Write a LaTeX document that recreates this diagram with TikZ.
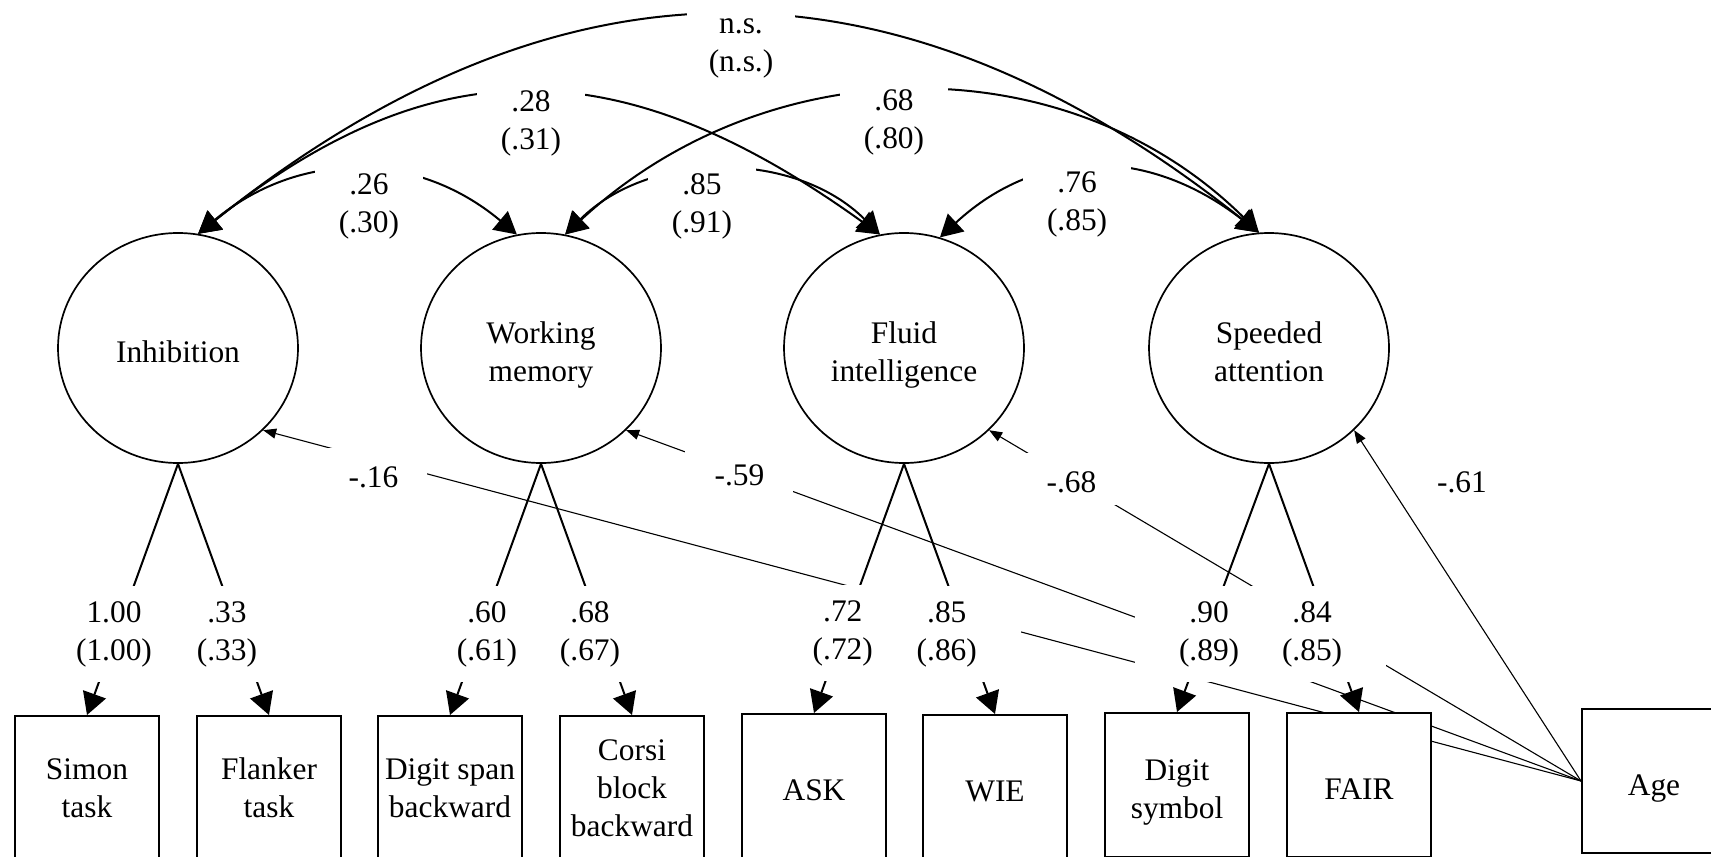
\documentclass[tikz,border=0pt]{standalone}
\usepackage{fontspec}
\setmainfont{Liberation Serif}
\usetikzlibrary{shapes.geometric,arrows.meta}
\pgfdeclarelayer{bg}
\pgfsetlayers{bg,main}
% two-line coefficient label with even line heights
\newcommand{\twoline}[2]{\strut#1\\\strut#2}
% taller box for the age-effect labels
\newcommand{\tallrule}{\rule[-6pt]{0pt}{26pt}}
% first-line spacer that sets a name a little below centre
\newcommand{\lowrule}{\rule[-5.7pt]{0pt}{25.4pt}}
\begin{document}
\begin{tikzpicture}[x=0.5pt,y=-0.5pt,
  every node/.style={font=\fontsize{15.7}{19}\selectfont},
  bighead/.tip={Triangle[length=11pt,width=12pt]},
  smallhead/.tip={Triangle[length=6.5pt,width=5pt]},
  factor/.style={draw, ellipse, line width=0.85pt, fill=white,
    minimum width=120pt, minimum height=115pt, inner sep=0pt, align=center},
  measure/.style={draw, rectangle, line width=1pt, fill=white,
    minimum width=72pt, minimum height=72pt, inner sep=0pt, align=center},
  loading/.style={line width=1pt, -bighead},
  cov/.style={line width=1pt, bighead-bighead},
  agepath/.style={line width=0.55pt, -smallhead},
  ldlbl/.style={fill=white, inner sep=0pt, minimum width=74pt,
    minimum height=48pt, align=center},
  arclbl/.style={fill=white, inner xsep=0pt, inner ysep=3pt,
    minimum width=54pt, align=center},
  agelbl/.style={fill=white, inner sep=0pt, minimum width=54pt},
]
\useasboundingbox (0,0) rectangle (1711,856);

% latent factors
\node[factor] (inh) at (178,348) {\lowrule Inhibition};
\node[factor] (wm)  at (541,348) {\lowrule Working\\\strut memory};
\node[factor] (flu) at (904,348) {\lowrule Fluid\\\strut intelligence};
\node[factor] (spd) at (1269,348) {\lowrule Speeded\\\strut attention};

% observed measures
\node[measure] (simon)   at (87,788)   {Simon\\task};
\node[measure] (flanker) at (269,788)  {Flanker\\task};
\node[measure] (dspan)   at (450,788)  {Digit span\\backward};
\node[measure] (corsi)   at (632,788)  {Corsi\\block\\backward};
\node[measure] (ask)     at (814,786)  {\lowrule ASK};
\node[measure] (wie)     at (995,787)  {\lowrule WIE};
\node[measure] (dsym)    at (1177,785) {\rule{0pt}{17.4pt}Digit\\symbol};
\node[measure] (fair)    at (1359,785) {\lowrule FAIR};
\node[measure] (age)     at (1654,781) {\lowrule Age};

% age effects on the factors (behind everything else)
\begin{pgfonlayer}{bg}
\draw[agepath] (age.west) -- node[agelbl, pos=0.9163, yshift=-7pt] (l-ainh) {\tallrule-.16} (inh.-44);
\draw[agepath] (age.west) -- node[agelbl, pos=0.8813] (l-awm) {\tallrule-.59} (wm.-44);
\draw[agepath] (age.west) -- node[agelbl, pos=0.861] (l-aflu) {\tallrule-.68} (flu.-44);
\draw[agepath] (age.west) -- node[inner sep=0pt, pos=0.8617, xshift=38.25pt] (l-aspd) {\tallrule-.61} (spd.-44);
\end{pgfonlayer}

% factor loadings
\draw[loading] (inh.south) -- node[ldlbl, pos=0.676, xshift=-1.25pt] (l-simon) {\twoline{1.00}{(1.00)}} (simon.north);
\draw[loading] (inh.south) -- node[ldlbl, pos=0.676, xshift=-6.25pt] (l-flanker) {\twoline{.33}{(.33)}} (flanker.north);
\draw[loading] (wm.south) -- node[ldlbl, pos=0.676, xshift=3.75pt] (l-dspan) {\twoline{.60}{(.61)}} (dspan.north);
\draw[loading] (wm.south) -- node[ldlbl, pos=0.676, xshift=-6.25pt] (l-corsi) {\twoline{.68}{(.67)}} (corsi.north);
\draw[loading] (flu.south) -- node[ldlbl, pos=0.680] (l-ask) {\twoline{.72}{(.72)}} (ask.north);
\draw[loading] (flu.south) -- node[ldlbl, pos=0.679, xshift=-9.5pt] (l-wie) {\twoline{.85}{(.86)}} (wie.north);
\draw[loading] (spd.south) -- node[ldlbl, pos=0.684, xshift=1.5pt] (l-dsym) {\twoline{.90}{(.89)}} (dsym.north);
\draw[loading] (spd.south) -- node[ldlbl, pos=0.684, xshift=-9.25pt] (l-fair) {\twoline{.84}{(.85)}} (fair.north);

% factor correlations
\draw[cov] (inh.80) .. controls (561,-56) and (896,-56) ..
  node[arclbl, pos=0.5, xshift=6.25pt, yshift=-14.25pt] (l-is) {\twoline{n.s.}{(n.s.)}} (spd.95);
\draw[cov] (inh.80) .. controls (433,47) and (619,47) ..
  node[arclbl, pos=0.5, xshift=0.9pt, yshift=-14.5pt] (l-if) {\twoline{.28}{(.31)}} (flu.102);
\draw[cov] (inh.80) .. controls (299,150) and (416,150) ..
  node[arclbl, pos=0.5, xshift=5.75pt, yshift=-17.2pt] (l-iw) {\twoline{.26}{(.30)}} (wm.102);
\draw[cov] (wm.78) .. controls (650,150) and (795,150) ..
  node[arclbl, pos=0.5, xshift=-10.25pt, yshift=-17.15pt] (l-wf) {\twoline{.85}{(.91)}} (flu.102);
\draw[cov] (wm.78) .. controls (770,45) and (1069,45) ..
  node[arclbl, pos=0.5, xshift=-11.8pt, yshift=-14.7pt] (l-ws) {\twoline{.68}{(.80)}} (spd.95);
\draw[cov] (flu.72) .. controls (1040,145) and (1150,148) ..
  node[arclbl, pos=0.5, xshift=-9.5pt, yshift=-17.45pt] (l-fs) {\twoline{.76}{(.85)}} (spd.95);
\end{tikzpicture}
\end{document}
